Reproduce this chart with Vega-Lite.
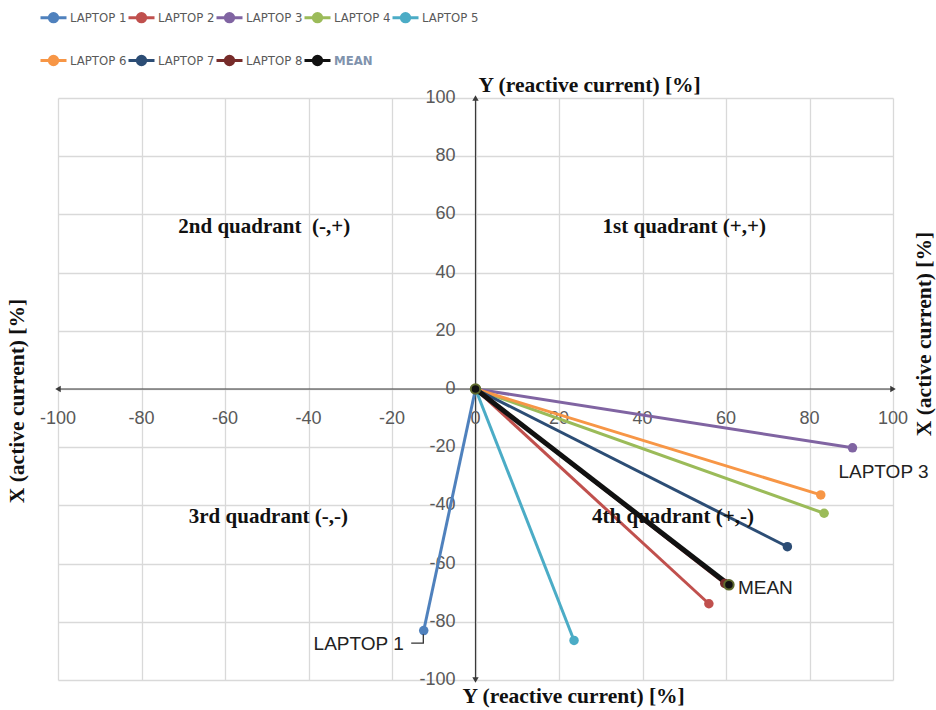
{
  "$schema": "https://vega.github.io/schema/vega-lite/v6.json",
  "width": 835,
  "height": 582,
  "autosize": {"type": "none"},
  "padding": {"left": 58, "top": 98, "right": 43, "bottom": 30},
  "background": "white",
  "config": {"view": {"stroke": null}},
  "datasets": {
    "vectors": [
      {"series": "LAPTOP 1", "x": 0, "y": 0}, {"series": "LAPTOP 1", "x": -12.4, "y": -83.0},
      {"series": "LAPTOP 2", "x": 0, "y": 0}, {"series": "LAPTOP 2", "x": 55.9, "y": -73.8},
      {"series": "LAPTOP 3", "x": 0, "y": 0}, {"series": "LAPTOP 3", "x": 90.3, "y": -20.2},
      {"series": "LAPTOP 4", "x": 0, "y": 0}, {"series": "LAPTOP 4", "x": 83.5, "y": -42.7},
      {"series": "LAPTOP 5", "x": 0, "y": 0}, {"series": "LAPTOP 5", "x": 23.6, "y": -86.4},
      {"series": "LAPTOP 6", "x": 0, "y": 0}, {"series": "LAPTOP 6", "x": 82.7, "y": -36.4},
      {"series": "LAPTOP 7", "x": 0, "y": 0}, {"series": "LAPTOP 7", "x": 74.7, "y": -54.2},
      {"series": "LAPTOP 8", "x": 0, "y": 0}, {"series": "LAPTOP 8", "x": 59.7, "y": -66.8},
      {"series": "MEAN", "x": 0, "y": 0}, {"series": "MEAN", "x": 60.7, "y": -67.3}
    ],
    "ticks": [
      {"v": -100}, {"v": -80}, {"v": -60}, {"v": -40}, {"v": -20}, {"v": 0},
      {"v": 20}, {"v": 40}, {"v": 60}, {"v": 80}, {"v": 100}
    ],
    "axes": [
      {"x1": -100, "x2": 100, "y1": 0, "y2": 0},
      {"x1": 0, "x2": 0, "y1": -100, "y2": 100}
    ],
    "arrows": [
      {"dir": "left", "x": -100, "y": 0},
      {"dir": "right", "x": 100, "y": 0},
      {"dir": "up", "x": 0, "y": 100},
      {"dir": "down", "x": 0, "y": -100}
    ],
    "quadrants": [
      {"label": "1st quadrant (+,+)", "x": 50, "y": 55.7},
      {"label": "2nd quadrant\u00a0 (-,+)", "x": -50.6, "y": 55.7},
      {"label": "3rd quadrant (-,-)", "x": -49.6, "y": -44},
      {"label": "4th quadrant (+,-)", "x": 47.3, "y": -43.9}
    ],
    "leader": [
      {"x": -15.4, "y": -87.3, "k": 0},
      {"x": -12.5, "y": -87.3, "k": 1},
      {"x": -12.5, "y": -84.3, "k": 2}
    ],
    "one": [{}]
  },
  "layer": [
    {
      "data": {"name": "axes"},
      "mark": {"type": "rule", "color": "#3a3a3a", "strokeWidth": 1.2},
      "encoding": {
        "x": {
          "field": "x1", "type": "quantitative",
          "scale": {"domain": [-100, 100], "nice": false, "zero": false},
          "axis": {
            "grid": true, "labels": false, "ticks": false, "domain": false, "title": null,
            "values": [-100, -80, -60, -40, -20, 0, 20, 40, 60, 80, 100],
            "gridColor": "#d9d9d9", "gridWidth": 1.3
          }
        },
        "x2": {"field": "x2"},
        "y": {
          "field": "y1", "type": "quantitative",
          "scale": {"domain": [-100, 100], "nice": false, "zero": false},
          "axis": {
            "grid": true, "labels": false, "ticks": false, "domain": false, "title": null,
            "values": [-100, -80, -60, -40, -20, 0, 20, 40, 60, 80, 100],
            "gridColor": "#d9d9d9", "gridWidth": 1.3
          }
        },
        "y2": {"field": "y2"}
      }
    },
    {
      "data": {"name": "arrows"},
      "mark": {"type": "point", "filled": true, "size": 40, "color": "#3a3a3a", "opacity": 1},
      "encoding": {
        "x": {"field": "x", "type": "quantitative"},
        "y": {"field": "y", "type": "quantitative"},
        "shape": {
          "field": "dir", "type": "nominal", "legend": null,
          "scale": {"domain": ["left", "right", "up", "down"], "range": ["triangle-left", "triangle-right", "triangle-up", "triangle-down"]}
        }
      }
    },
    {
      "data": {"name": "ticks"},
      "transform": [{"calculate": "'' + datum.v", "as": "lbl"}],
      "mark": {"type": "text", "font": "Liberation Sans", "fontSize": 18, "color": "#595959", "align": "center", "baseline": "middle", "dy": 30},
      "encoding": {
        "x": {"field": "v", "type": "quantitative"},
        "y": {"datum": 0},
        "text": {"field": "lbl"}
      }
    },
    {
      "data": {"name": "ticks"},
      "transform": [{"calculate": "'' + datum.v", "as": "lbl"}],
      "mark": {"type": "text", "font": "Liberation Sans", "fontSize": 18, "color": "#595959", "align": "right", "baseline": "middle", "dx": -20},
      "encoding": {
        "x": {"datum": 0},
        "y": {"field": "v", "type": "quantitative"},
        "text": {"field": "lbl"}
      }
    },
    {
      "data": {"name": "vectors"},
      "transform": [{"filter": "datum.series !== 'MEAN'"}],
      "mark": {"type": "line", "strokeWidth": 3},
      "encoding": {
        "x": {"field": "x", "type": "quantitative"},
        "y": {"field": "y", "type": "quantitative"},
        "color": {
          "field": "series", "type": "nominal",
          "scale": {
            "domain": ["LAPTOP 1", "LAPTOP 2", "LAPTOP 3", "LAPTOP 4", "LAPTOP 5", "LAPTOP 6", "LAPTOP 7", "LAPTOP 8", "MEAN"],
            "range": ["#4F81BD", "#C0504D", "#8064A2", "#9BBB59", "#4BACC6", "#F79646", "#2C4D75", "#772C2A", "#111111"]
          },
          "legend": {
            "title": null,
            "orient": "none",
            "legendX": -19,
            "legendY": -95,
            "direction": "horizontal",
            "columns": 5,
            "padding": 0,
            "columnPadding": -9,
            "rowPadding": 18,
            "symbolType": "M-1,0H1M0.32,0A0.32,0.32,0,1,1,-0.32,0A0.32,0.32,0,1,1,0.32,0Z",
            "symbolSize": 676,
            "symbolStrokeWidth": 3,
            "labelOffset": 2,
            "labelFont": "Liberation Sans Narrow, DejaVu Sans Condensed, sans-serif",
            "labelFontSize": 13,
            "labelColor": "#595959",
            "encode": {
              "symbols": {
                "update": {
                  "fill": {"scale": "color", "field": "value"},
                  "stroke": {"scale": "color", "field": "value"},
                  "strokeWidth": {"value": 3},
                  "opacity": {"value": 1}
                }
              },
              "labels": {
                "update": {
                  "fill": [{"test": "datum.value === 'MEAN'", "value": "#8093ad"}, {"value": "#595959"}],
                  "fontWeight": [{"test": "datum.value === 'MEAN'", "value": "bold"}, {"value": "normal"}]
                }
              }
            }
          }
        }
      }
    },
    {
      "data": {"name": "vectors"},
      "transform": [{"filter": "datum.series === 'MEAN'"}],
      "mark": {"type": "line", "strokeWidth": 5, "color": "#111111"},
      "encoding": {
        "x": {"field": "x", "type": "quantitative"},
        "y": {"field": "y", "type": "quantitative"}
      }
    },
    {
      "data": {"name": "vectors"},
      "transform": [{"filter": "datum.series !== 'MEAN'"}],
      "mark": {"type": "circle", "size": 90, "opacity": 1},
      "encoding": {
        "x": {"field": "x", "type": "quantitative"},
        "y": {"field": "y", "type": "quantitative"},
        "color": {"field": "series", "type": "nominal", "legend": null}
      }
    },
    {
      "data": {"name": "vectors"},
      "transform": [{"filter": "datum.series === 'MEAN'"}],
      "mark": {"type": "circle", "size": 90, "opacity": 1, "fill": "#111111", "stroke": "#5f6b2e", "strokeWidth": 2},
      "encoding": {
        "x": {"field": "x", "type": "quantitative"},
        "y": {"field": "y", "type": "quantitative"}
      }
    },
    {
      "data": {"name": "leader"},
      "mark": {"type": "line", "color": "#333333", "strokeWidth": 1.3},
      "encoding": {
        "x": {"field": "x", "type": "quantitative"},
        "y": {"field": "y", "type": "quantitative"},
        "order": {"field": "k"}
      }
    },
    {
      "data": {"name": "vectors"},
      "transform": [{"filter": "datum.series === 'LAPTOP 1' && datum.x !== 0"}],
      "mark": {"type": "text", "font": "Liberation Sans", "fontSize": 19, "color": "#222222", "align": "right", "baseline": "middle", "dx": -20, "dy": 13},
      "encoding": {
        "x": {"field": "x", "type": "quantitative"},
        "y": {"field": "y", "type": "quantitative"},
        "text": {"field": "series"}
      }
    },
    {
      "data": {"name": "vectors"},
      "transform": [{"filter": "datum.series === 'LAPTOP 3' && datum.x !== 0"}],
      "mark": {"type": "text", "font": "Liberation Sans", "fontSize": 19, "color": "#222222", "align": "center", "baseline": "middle", "dx": 31, "dy": 24},
      "encoding": {
        "x": {"field": "x", "type": "quantitative"},
        "y": {"field": "y", "type": "quantitative"},
        "text": {"field": "series"}
      }
    },
    {
      "data": {"name": "vectors"},
      "transform": [{"filter": "datum.series === 'MEAN' && datum.x !== 0"}],
      "mark": {"type": "text", "font": "Liberation Sans", "fontSize": 19, "color": "#222222", "align": "left", "baseline": "middle", "dx": 9, "dy": 3},
      "encoding": {
        "x": {"field": "x", "type": "quantitative"},
        "y": {"field": "y", "type": "quantitative"},
        "text": {"field": "series"}
      }
    },
    {
      "data": {"name": "quadrants"},
      "mark": {"type": "text", "font": "Liberation Serif", "fontWeight": "bold", "fontSize": 21, "color": "#111111", "align": "center", "baseline": "middle"},
      "encoding": {
        "x": {"field": "x", "type": "quantitative"},
        "y": {"field": "y", "type": "quantitative"},
        "text": {"field": "label"}
      }
    },
    {
      "data": {"name": "one"},
      "mark": {"type": "text", "font": "Liberation Serif", "fontWeight": "bold", "fontSize": 21.5, "color": "#111111", "align": "left", "baseline": "middle", "dx": 3, "dy": -12},
      "encoding": {"x": {"datum": 0}, "y": {"datum": 100}, "text": {"value": "Y (reactive current) [%]"}}
    },
    {
      "data": {"name": "one"},
      "mark": {"type": "text", "font": "Liberation Serif", "fontWeight": "bold", "fontSize": 21.5, "color": "#111111", "align": "left", "baseline": "middle", "dx": -13, "dy": 17},
      "encoding": {"x": {"datum": 0}, "y": {"datum": -100}, "text": {"value": "Y (reactive current) [%]"}}
    },
    {
      "data": {"name": "one"},
      "mark": {"type": "text", "font": "Liberation Serif", "fontWeight": "bold", "fontSize": 21.5, "color": "#111111", "align": "center", "baseline": "middle", "angle": 270, "dx": -12, "dy": -40},
      "encoding": {"x": {"datum": -100}, "y": {"datum": 0}, "text": {"value": "X (active current) [%]"}}
    },
    {
      "data": {"name": "one"},
      "mark": {"type": "text", "font": "Liberation Serif", "fontWeight": "bold", "fontSize": 21.5, "color": "#111111", "align": "center", "baseline": "middle", "angle": 270, "dx": 55, "dy": 32},
      "encoding": {"x": {"datum": 100}, "y": {"datum": 0}, "text": {"value": "X (active current) [%]"}}
    }
  ]
}
